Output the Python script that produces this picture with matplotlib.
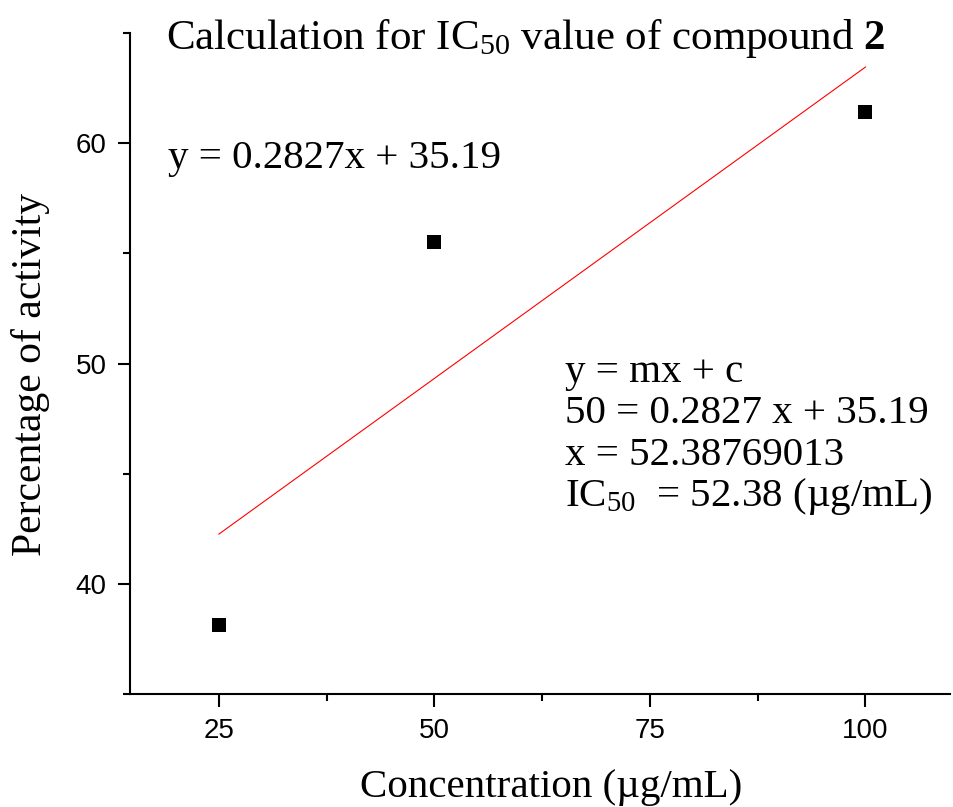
import matplotlib
matplotlib.use("Agg")
import matplotlib.pyplot as plt
from matplotlib.ticker import MultipleLocator
import numpy as np

# data
conc = [25, 50, 100]
activity = [38.14, 55.51, 61.41]
slope = 0.2827
intercept = 35.19

plt.rcParams['mathtext.fontset'] = 'custom'
plt.rcParams['mathtext.rm'] = 'Liberation Serif'
plt.rcParams['mathtext.it'] = 'Liberation Serif:italic'
plt.rcParams['mathtext.bf'] = 'Liberation Serif:bold'

serif = 'Liberation Serif'
sans = 'Liberation Sans'

fig = plt.figure(figsize=(9.54, 8.07), dpi=100)
ax = fig.add_axes([0.1363, 0.140, 0.8595, 0.819])

# fitted line
xs = np.array([conc[0], conc[-1]])
ax.plot(xs, slope * xs + intercept, color='red', lw=0.8)
ax.plot(conc, activity, 's', color='black', markersize=10, markeredgewidth=0)

ax.set_xlim(14.7, 109.8)
ax.set_ylim(35, 65)

ax.spines['top'].set_visible(False)
ax.spines['right'].set_visible(False)
for s in ['left', 'bottom']:
    ax.spines[s].set_linewidth(1.5)

ax.xaxis.set_major_locator(MultipleLocator(25))
ax.xaxis.set_minor_locator(MultipleLocator(12.5))
ax.yaxis.set_major_locator(MultipleLocator(10))
ax.yaxis.set_minor_locator(MultipleLocator(5))
ax.tick_params(which='major', direction='out', length=9, width=1.5, labelsize=20, pad=8)
ax.tick_params(which='minor', direction='out', length=5, width=1.5)
for lab in ax.get_xticklabels() + ax.get_yticklabels():
    lab.set_fontfamily(sans)

ax.set_xlabel('Concentration (µg/mL)', fontfamily=serif, fontsize=29.5, labelpad=18)
ax.set_ylabel('Percentage of activity', fontfamily=serif, fontsize=30, labelpad=18)
ax.xaxis.label.set_x(0.513)
ax.yaxis.label.set_y(0.483)

fig.text(0.174, 0.952, r'Calculation for IC$_{50}$ value of compound $\mathbf{2}$',
         fontfamily=serif, fontsize=31, va='center', ha='left')
fig.text(0.176, 0.804, 'y = 0.2827x + 35.19', fontfamily=serif, fontsize=29.5,
         va='center', ha='left')

lines = ['y = mx + c',
         '50 = 0.2827 x + 35.19',
         'x = 52.38769013',
         r'IC$_{50}$  = 52.38 (µg/mL)']
for i, t in enumerate(lines):
    fig.text(0.592, 0.539 - i * 0.0515, t, fontfamily=serif, fontsize=29.5,
             va='center', ha='left')

fig.savefig('out.png', dpi=100)
